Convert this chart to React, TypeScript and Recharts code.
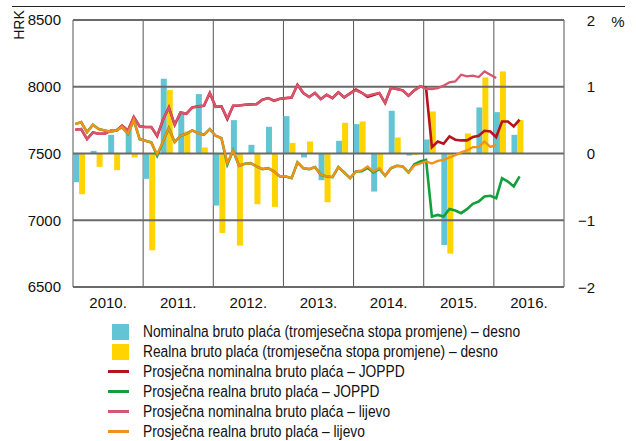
import React from 'react';
import { BarChart, Bar, LineChart, Line, XAxis, YAxis, CartesianGrid, ReferenceLine } from 'recharts';

// Year labels and boundaries (months counted from Jan 2010)
const yearLabels = ['2010.', '2011.', '2012.', '2013.', '2014.', '2015.', '2016.'];
const yearStarts = [0, 12, 24, 36, 48, 60, 72, 84];
const yearMiddles = [6, 18, 30, 42, 54, 66, 78];
const hrkTicks = [6500, 7000, 7500, 8000, 8500];
const pctTicks = [-2, -1, 0, 1, 2];

// Quarterly rates of change, 2010 Q1 - 2016 Q2 (right axis, %)
const nominalQuarterly = [
  -0.43, 0.04, 0.28, 0.38,
  -0.38, 1.12, 0.6, 0.89,
  -0.78, 0.5, 0.13, 0.4,
  0.56, -0.06, -0.4, 0.19,
  0.44, -0.57, 0.64, -0.03,
  0.21, -1.37, 0.02, 0.69,
  0.62, 0.28,
];
const realQuarterly = [
  -0.61, -0.2, -0.25, -0.06,
  -1.45, 0.95, 0.33, 0.09,
  -1.19, -1.38, -0.76, -0.8,
  0.16, 0.18, -0.73, 0.46,
  0.48, -0.25, 0.24, -0.02,
  0.63, -1.5, 0.3, 1.14,
  1.23, 0.5,
];

// Monthly averages, HRK (left axis), Jan 2010 - Jan 2016
const nominalLeft = [
  7678, 7683, 7608, 7658, 7648, 7648, 7670, 7670, 7708, 7673, 7773, 7703,
  7698, 7698, 7635, 7753, 7845, 7715, 7808, 7798, 7845, 7853, 7858, 7953,
  7850, 7853, 7765, 7858, 7860, 7865, 7868, 7870, 7903, 7915, 7895, 7910,
  7915, 7920, 8015, 7953, 7923, 7953, 7908, 7940, 7915, 7958, 7920, 7950,
  7973, 7953, 7933, 7945, 7953, 7878, 7990, 7983, 7973, 7933, 7973, 8003,
  7985, 7983, 7990, 8008, 8033, 8040, 8090, 8078, 8083, 8073, 8115, 8090,
  8065,
];
const realLeft = [
  7720, 7735, 7660, 7715, 7683, 7673, 7663, 7673, 7698, 7648, 7750, 7608,
  7595, 7583, 7495, 7590, 7690, 7585, 7633, 7648, 7673, 7653, 7640, 7683,
  7633, 7615, 7428, 7523, 7408, 7423, 7428, 7403, 7383, 7390, 7365, 7328,
  7328, 7315, 7433, 7390, 7383, 7398, 7340, 7328, 7323, 7398, 7358, 7315,
  7365, 7373, 7403, 7365, 7390, 7333, 7390, 7408, 7403, 7358, 7410, 7425,
  7440, 7425, 7445, 7453, 7470, 7487, 7508, 7523, 7548, 7548, 7590, 7550,
  7565,
];

// Monthly averages, JOPPD (HRK), Jan 2010 - May 2016
const nominalJoppd = [
  7678, 7683, 7608, 7658, 7648, 7648, 7670, 7670, 7708, 7673, 7773, 7703,
  7698, 7698, 7630, 7753, 7845, 7715, 7808, 7798, 7845, 7853, 7858, 7953,
  7850, 7853, 7758, 7858, 7860, 7865, 7868, 7870, 7903, 7915, 7895, 7910,
  7915, 7920, 8015, 7953, 7923, 7953, 7908, 7940, 7915, 7958, 7920, 7950,
  7980, 7955, 7925, 7938, 7953, 7878, 7993, 7983, 7973, 7933, 7973, 8003,
  7990, 7548, 7590, 7573, 7628, 7603, 7598, 7598, 7623, 7633, 7670, 7665,
  7623, 7740, 7740, 7703, 7753,
];
const realJoppd = [
  7720, 7735, 7660, 7715, 7683, 7673, 7663, 7673, 7698, 7648, 7750, 7608,
  7595, 7583, 7483, 7590, 7690, 7585, 7633, 7648, 7673, 7653, 7640, 7683,
  7633, 7615, 7418, 7523, 7408, 7423, 7428, 7403, 7383, 7390, 7365, 7328,
  7328, 7315, 7433, 7390, 7383, 7398, 7340, 7328, 7323, 7398, 7358, 7315,
  7365, 7368, 7393, 7358, 7385, 7333, 7390, 7408, 7403, 7358, 7420, 7440,
  7452, 7028, 7040, 7028, 7085, 7073, 7053, 7083, 7123, 7140, 7178, 7183,
  7165, 7315, 7290, 7253, 7328,
];

const barData = nominalQuarterly.map((v, q) => ({
  m: q * 3 + 1,
  nominal: v,
  real: realQuarterly[q],
}));

const lineData = nominalJoppd.map((v, i) => ({
  m: i,
  nominalJoppd: v,
  realJoppd: realJoppd[i],
  nominalLeft: nominalLeft[i],
  realLeft: realLeft[i],
}));

const FONT = "'Liberation Sans', Arial, sans-serif";
const CYAN = '#63c5d3';
const YELLOW = '#ffd400';
const RED = '#b5141e';
const GREEN = '#13a03c';
const PINK = '#d9546f';
const ORANGE = '#f29115';
const GRID = '#555';
const NONE = { stroke: 'none' };

const fmtPct = (v: number) => (v < 0 ? `\u2212${Math.abs(v)}` : `${v}`);

const PctTick = (props: any) => {
  const { x, y, payload } = props;
  return (
    <text x={x + 23} y={y} textAnchor="end" dominantBaseline="central" fontSize={15} fontFamily={FONT} fill="#111">
      {fmtPct(payload.value)}
    </text>
  );
};

const legendItems = [
  { kind: 'box', color: CYAN, label: 'Nominalna bruto plaća (tromjesečna stopa promjene) – desno' },
  { kind: 'box', color: YELLOW, label: 'Realna bruto plaća (tromjesečna stopa promjene) – desno' },
  { kind: 'line', color: RED, label: 'Prosječna nominalna bruto plaća – JOPPD' },
  { kind: 'line', color: GREEN, label: 'Prosječna realna bruto plaća – JOPPD' },
  { kind: 'line', color: PINK, label: 'Prosječna nominalna bruto plaća – lijevo' },
  { kind: 'line', color: ORANGE, label: 'Prosječna realna bruto plaća – lijevo' },
];

const App: React.FC = () => {
  return (
    <div style={{ position: 'absolute', left: 0, top: 0, width: 636, height: 441, background: '#fff', fontFamily: FONT }}>
      {/* bars, grid lines, x labels and right axis */}
      <div style={{ position: 'absolute', left: 0, top: 0 }}>
        <BarChart width={636} height={320} data={barData} margin={{ top: 20, right: 12, left: 73, bottom: 8 }} barGap={0}>
          <CartesianGrid yAxisId="pct" stroke={GRID} strokeWidth={1} horizontal={false} verticalValues={yearStarts} />
          <XAxis
            dataKey="m"
            type="number"
            domain={[0, 84]}
            ticks={yearMiddles}
            tickFormatter={(v: number) => yearLabels[yearMiddles.indexOf(v)]}
            axisLine={false}
            tickLine={false}
            tickMargin={4}
            height={25}
            interval={0}
            tick={{ fontSize: 15, fill: '#111', fontFamily: FONT }}
          />
          <YAxis
            yAxisId="pct"
            orientation="right"
            domain={[-2, 2]}
            ticks={pctTicks}
            width={60}
            axisLine={false}
            tickLine={false}
            interval={0}
            tick={PctTick}
          />
          {pctTicks.map((t) => (
            <ReferenceLine key={t} yAxisId="pct" y={t} stroke="#6a6a6a" strokeWidth={2} />
          ))}
          <Bar yAxisId="pct" dataKey="nominal" fill={CYAN} barSize={6} isAnimationActive={false} />
          <Bar yAxisId="pct" dataKey="real" fill={YELLOW} barSize={6} isAnimationActive={false} />
        </BarChart>
      </div>

      {/* left axis and monthly lines on top */}
      <div style={{ position: 'absolute', left: 0, top: 0 }}>
        <LineChart width={636} height={320} data={lineData} margin={{ top: 20, right: 72, left: 13, bottom: 3 }}>
          <XAxis dataKey="m" type="number" domain={[-0.4, 83.6]} height={30} tick={false} axisLine={NONE} tickLine={NONE} />
          <YAxis
            domain={[6500, 8500]}
            ticks={hrkTicks}
            width={60}
            axisLine={NONE}
            tickLine={NONE}
            tickMargin={6}
            tick={{ fontSize: 15, fill: '#111', fontFamily: FONT }}
          />
          <Line dataKey="nominalJoppd" stroke={RED} strokeWidth={2.6} dot={false} isAnimationActive={false} />
          <Line dataKey="realJoppd" stroke={GREEN} strokeWidth={2.6} dot={false} isAnimationActive={false} />
          <Line dataKey="nominalLeft" stroke={PINK} strokeWidth={2.3} dot={false} isAnimationActive={false} />
          <Line dataKey="realLeft" stroke={ORANGE} strokeWidth={2.3} dot={false} isAnimationActive={false} />
        </LineChart>
      </div>

      {/* top rule and unit labels */}
      <svg width={636} height={441} style={{ position: 'absolute', left: 0, top: 0, pointerEvents: 'none' }}>
        <line x1={12} x2={625} y1={6.5} y2={6.5} stroke="#222" strokeWidth={1} />
        <text x={18.5} y={25} transform="rotate(-90 18.5 25)" textAnchor="middle" dominantBaseline="central" fontSize={14} fontFamily={FONT} fill="#111">
          HRK
        </text>
        <text x={618} y={21} textAnchor="middle" dominantBaseline="central" fontSize={15} fontFamily={FONT} fill="#111">
          %
        </text>
      </svg>

      {/* legend */}
      <div style={{ position: 'absolute', left: 108, top: 321.5 }}>
        {legendItems.map((it) => (
          <div key={it.label} style={{ display: 'flex', alignItems: 'center', height: 20 }}>
            <div style={{ width: 35, height: 20, position: 'relative', flex: 'none' }}>
              {it.kind === 'box' ? (
                <div style={{ position: 'absolute', left: 4, top: 2, width: 17, height: 16, background: it.color }} />
              ) : (
                <div style={{ position: 'absolute', left: 0, top: 8.5, width: 21, height: 3, background: it.color }} />
              )}
            </div>
            <span
              style={{
                display: 'inline-block',
                fontSize: 16,
                color: '#111',
                whiteSpace: 'nowrap',
                lineHeight: '20px',
                transform: 'scaleX(0.86)',
                transformOrigin: 'left center',
              }}
            >
              {it.label}
            </span>
          </div>
        ))}
      </div>
    </div>
  );
};

export default App;
